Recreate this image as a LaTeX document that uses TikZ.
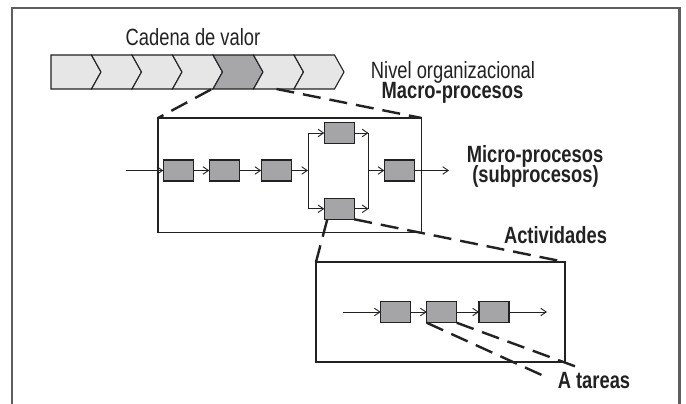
\documentclass[tikz,border=0pt]{standalone}
\usepackage{fontspec}
\setmainfont[FakeStretch=0.78]{Liberation Sans}
\usetikzlibrary{arrows.meta}
\definecolor{framegray}{HTML}{5E5E5E}
\definecolor{lightch}{HTML}{E6E6E6}
\definecolor{darkch}{HTML}{A7A7A9}
\definecolor{boxgray}{HTML}{A5A5A7}
\definecolor{ink}{HTML}{222222}
\begin{document}
\begin{tikzpicture}[x=1pt,y=-1pt,
  frame/.style={draw=framegray,line width=2.2pt},
  chev/.style={draw=ink,line width=1.1pt,line join=miter},
  zoombox/.style={draw=ink,line width=1.4pt,outer sep=0pt,inner sep=0pt,anchor=north west},
  proc/.style={draw=ink,line width=1.2pt,fill=boxgray,minimum width=30pt,minimum height=21pt,inner sep=0pt,outer sep=0pt},
  flow/.style={draw=ink,line width=0.9pt,-{Straight Barb[length=5.5pt,width=7.5pt]}},
  plain/.style={draw=ink,line width=0.9pt},
  zoomline/.style={draw=ink,line width=2.4pt,dash pattern=on 18pt off 9pt},
  lbl/.style={font=\fontsize{23.5}{28}\selectfont,text=ink,inner sep=0pt,anchor=base},
  lblb/.style={font=\fontsize{23.5}{28}\selectfont\bfseries,text=ink,inner sep=0pt,anchor=base}]
\useasboundingbox (0,0) rectangle (686,404);
\fill[white] (0,0) rectangle (686,404);
\draw[frame] (12,410) -- (12,8) -- (679.5,8) -- (679.5,410);

% value chain
\foreach \k in {0,...,6}{
  \pgfmathsetmacro{\xl}{51+40.5*\k}
  \pgfmathsetmacro{\xr}{91.5+40.5*\k}
  \ifnum\k=4 \def\cf{darkch}\else\def\cf{lightch}\fi
  \ifnum\k=0 \def\nd{0}\else\def\nd{9.5}\fi
  \path[chev,fill=\cf] (\xl,55) -- (\xr,55) -- (\xr+9.5,72) -- (\xr,89) -- (\xl,89) -- (\xl+\nd,72) -- cycle;
}
\coordinate (gbl) at (211,89.5);
\coordinate (gbr) at (276.5,89);

% labels
\node[lbl] (cadena) at (193,45.5) {Cadena de valor};
\node[lbl] (nivel) at (453,78) {Nivel organizacional};
\node[lblb] (macro) at (452.5,98.5) {Macro-procesos};
\node[lblb] (micro) at (535,162.7) {Micro-procesos};
\node[lblb] (sub) at (535.5,182.7) {(subprocesos)};
\node[lblb] (activ) at (555.5,243.3) {Actividades};
\node[lblb] (tareas) at (594,388.3) {A tareas};

% macro-process box
\node[zoombox,minimum width=263.5pt,minimum height=114.5pt] (M) at (158,118) {};
\node[proc] (b1) at (178.3,170.5) {};
\node[proc] (b2) at (224.3,170.5) {};
\node[proc] (b3) at (276.2,170.5) {};
\node[proc] (b4) at (339.3,133) {};
\node[proc] (b5) at (339.3,208.8) {};
\node[proc] (b6) at (399.3,170.5) {};
\coordinate (in1) at (126,170.5);
\coordinate (split) at (308,170.5);
\coordinate (sTop) at (308,133);
\coordinate (sBot) at (308,208.8);
\coordinate (jTop) at (368.5,133);
\coordinate (jBot) at (368.5,208.8);
\coordinate (join) at (368.5,170.5);
\coordinate (out1) at (449,170.5);
\draw[flow] (in1) -- (b1);
\draw[flow] (b1) -- (b2);
\draw[flow] (b2) -- (b3);
\draw[flow] (b3) -- (split);
\draw[plain] (sTop) -- (sBot);
\draw[flow] (sTop) -- (b4);
\draw[flow] (sBot) -- (b5);
\draw[flow] (b4) -- (jTop);
\draw[flow] (b5) -- (jBot);
\draw[plain] (jTop) -- (jBot);
\draw[flow] (join) -- (b6);
\draw[flow] (b6) -- (out1);

% activity box
\node[zoombox,minimum width=249pt,minimum height=100pt] (L) at (316,262) {};
\node[proc,minimum height=21.5pt] (c1) at (395.7,312) {};
\node[proc,minimum height=21.5pt] (c2) at (441.7,312) {};
\node[proc,minimum height=21.5pt] (c3) at (494,312) {};
\coordinate (in2) at (343,312);
\coordinate (out2) at (547,312);
\draw[flow] (in2) -- (c1);
\draw[flow] (c1) -- (c2);
\draw[flow] (c2) -- (c3);
\draw[flow] (c3) -- (out2);

% zoom lines
\coordinate (t1) at (546,377);
\coordinate (t2) at (577,367);
\draw[zoomline] (gbl) -- (M.north west);
\draw[zoomline] (gbr) -- (M.north east);
\draw[zoomline] ([xshift=3pt]b5.south west) -- (L.north west);
\draw[zoomline] (b5.south east) -- (L.north east);
\draw[zoomline] (c2.south west) -- (t1);
\draw[zoomline] (c2.south east) -- (t2);
\end{tikzpicture}
\end{document}
